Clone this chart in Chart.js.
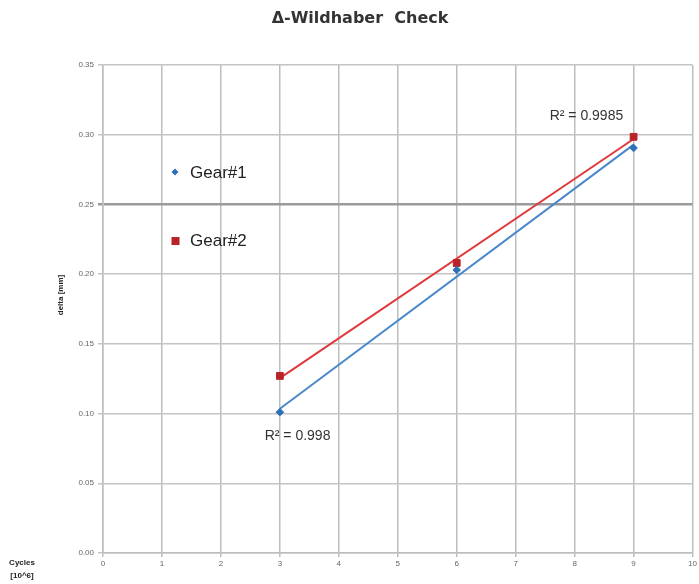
<!DOCTYPE html>
<html>
<head>
<meta charset="utf-8">
<title>Δ-Wildhaber Check</title>
<script src="https://cdn.jsdelivr.net/npm/chart.js@4.4.0/dist/chart.umd.min.js"></script>
<style>
  body { margin: 0; background: #fff; }
  #wrap { width: 699px; height: 584px; }
</style>
</head>
<body>
<div id="wrap"><canvas id="grafico" width="699" height="584"></canvas></div>
<script>
// datos
const ciclos = [3, 6, 9];
const gear1 = [0.101, 0.203, 0.2905];
const gear2 = [0.127, 0.208, 0.2985];
const nombres = ['Gear#1', 'Gear#2'];
const textosR2 = ['R\u00B2 = 0.998', 'R\u00B2 = 0.9985'];
const posR2 = [[3.3, 0.084], [8.2, 0.313]]; // donde va cada texto, en unidades de datos
const xMin = 0, xMax = 10, xPaso = 1;
const yMin = 0, yMax = 0.35, yPaso = 0.05;

const azul = '#2f6fb5';
const azulLinea = '#4a88cc';
const rojo = '#b8232a';
const rojoLinea = '#e0393c';

// recta de minimos cuadrados (linea de tendencia)
function tendencia(xs, ys) {
    const n = xs.length;
    const mx = xs.reduce((a, b) => a + b, 0) / n;
    const my = ys.reduce((a, b) => a + b, 0) / n;
    let num = 0, den = 0;
    xs.forEach((x, i) => { num += (x - mx) * (ys[i] - my); den += (x - mx) ** 2; });
    const m = num / den;
    const b = my - m * mx;
    const x0 = xs[0], x1 = xs[n - 1];
    return [{x: x0, y: m * x0 + b}, {x: x1, y: m * x1 + b}];
}

const puntos = (ys) => ciclos.map((x, i) => ({x: x, y: ys[i]}));

const extras = {
    id: 'extras',
    afterDraw(chart) {
        const ctx = chart.ctx;
        const area = chart.chartArea;
        const sx = chart.scales.x, sy = chart.scales.y;
        ctx.save();
        // titulo
        ctx.fillStyle = '#333';
        ctx.font = 'bold 16px "DejaVu Sans"';
        ctx.textAlign = 'center';
        ctx.textBaseline = 'middle';
        ctx.fillText('\u0394-Wildhaber  Check', 360, 19);

        // titulo eje y
        ctx.save();
        ctx.translate(61, 295);
        ctx.rotate(-Math.PI / 2);
        ctx.font = 'bold 8px "Liberation Sans"';
        ctx.fillStyle = '#222';
        ctx.fillText('delta [mm]', 0, 0);
        ctx.restore();

        // titulo eje x
        ctx.font = 'bold 8px "Liberation Sans"';
        ctx.fillStyle = '#222';
        ctx.fillText('Cycles', 22, 563);
        ctx.fillText('[10^6]', 22, 576);

        // leyenda
        ctx.textAlign = 'left';
        ctx.font = '17px "Liberation Sans"';
        const lx = area.left + 72;
        ctx.fillStyle = azul;
        ctx.beginPath();
        ctx.moveTo(lx, 168.5); ctx.lineTo(lx + 3.5, 172); ctx.lineTo(lx, 175.5); ctx.lineTo(lx - 3.5, 172);
        ctx.closePath(); ctx.fill();
        ctx.fillStyle = '#222';
        ctx.fillText(nombres[0], lx + 15, 173);
        ctx.fillStyle = rojo;
        ctx.fillRect(lx - 3.5, 237, 8, 8);
        ctx.fillStyle = '#222';
        ctx.fillText(nombres[1], lx + 15, 241);

        // textos R2
        ctx.textAlign = 'center';
        ctx.font = '14px "Liberation Sans"';
        ctx.fillStyle = '#333';
        textosR2.forEach((t, i) => {
            ctx.fillText(t, sx.getPixelForValue(posR2[i][0]), sy.getPixelForValue(posR2[i][1]));
        });
        ctx.restore();
    }
};

const ctx = document.getElementById('grafico').getContext('2d');
new Chart(ctx, {
    type: 'scatter',
    data: {
        datasets: [
            {
                label: nombres[0] + ' tendencia',
                data: tendencia(ciclos, gear1),
                showLine: true,
                borderColor: azulLinea,
                borderWidth: 2,
                pointRadius: 0,
                order: 3
            },
            {
                label: nombres[1] + ' tendencia',
                data: tendencia(ciclos, gear2),
                showLine: true,
                borderColor: rojoLinea,
                borderWidth: 2,
                pointRadius: 0,
                order: 3
            },
            {
                label: nombres[0],
                data: puntos(gear1),
                pointStyle: 'rectRot',
                pointRadius: 3.8,
                backgroundColor: azul,
                borderColor: azul,
                order: 1
            },
            {
                label: nombres[1],
                data: puntos(gear2),
                pointStyle: 'rect',
                pointRadius: 4.8,
                backgroundColor: rojo,
                borderColor: rojo,
                order: 2
            }
        ]
    },
    options: {
        responsive: false,
        animation: false,
        layout: { padding: { top: 65, right: 5, left: 0, bottom: 0 } },
        plugins: {
            legend: { display: false },
            title: { display: false },
            tooltip: { enabled: false }
        },
        scales: {
            x: {
                type: 'linear',
                min: xMin,
                max: xMax,
                afterFit: s => { s.height = 31; },
                ticks: {
                    stepSize: xPaso,
                    color: '#666',
                    font: { size: 8, family: 'Liberation Sans' },
                    padding: 2
                },
                grid: {
                    color: '#bdbdbd',
                    lineWidth: 1.5,
                    tickLength: 4
                },
                border: { color: '#bdbdbd', width: 1.5 }
            },
            y: {
                min: yMin,
                max: yMax,
                afterFit: s => { s.width = 103; },
                ticks: {
                    stepSize: yPaso,
                    color: '#666',
                    font: { size: 8, family: 'Liberation Sans' },
                    padding: 4,
                    callback: v => v.toFixed(2)
                },
                grid: {
                    color: c => (c.tick && Math.abs(c.tick.value - 0.25) < 1e-9) ? '#9a9a9a' : '#c4c4c4',
                    lineWidth: c => (c.tick && Math.abs(c.tick.value - 0.25) < 1e-9) ? 2.5 : 1.5,
                    tickLength: 5
                },
                border: { color: '#bdbdbd', width: 1.5 }
            }
        }
    },
    plugins: [extras]
});
</script>
</body>
</html>
